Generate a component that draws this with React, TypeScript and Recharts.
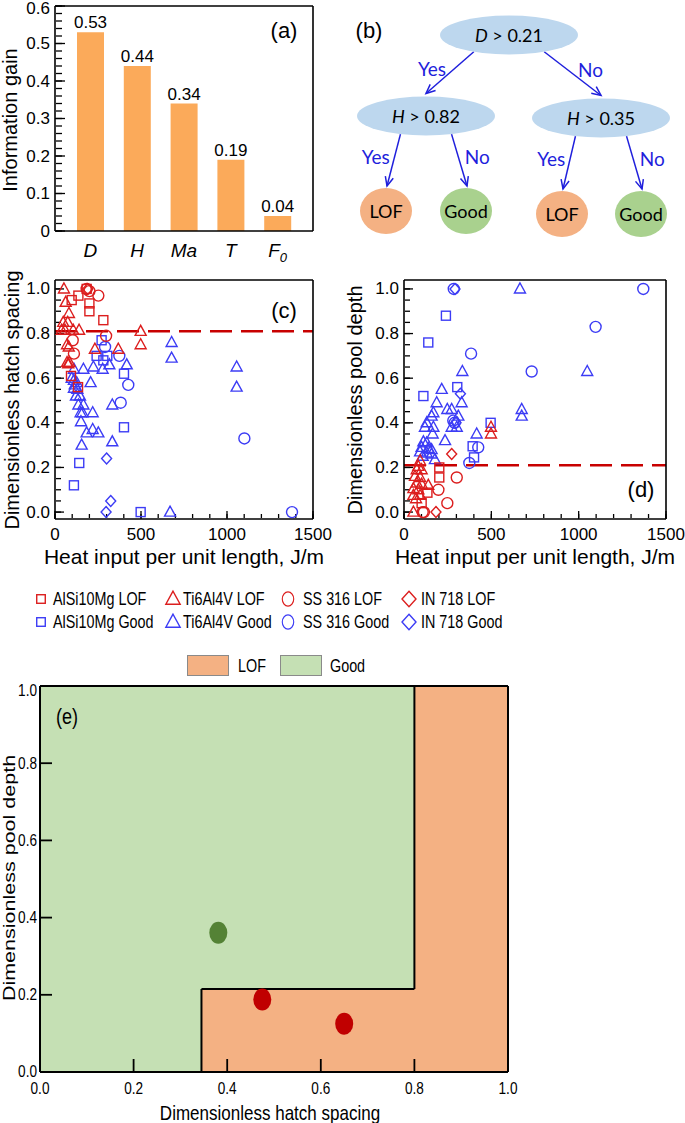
import React from "react";
import {
  ComposedChart,
  Bar,
  Line,
  XAxis,
  YAxis,
  LabelList,
  ScatterChart,
  Scatter,
  ReferenceLine,
  ReferenceArea,
} from "recharts";

// (a) information gain of each feature
const features = ["D", "H", "Ma", "T", "F0"];
const infoGain = [0.53, 0.44, 0.34, 0.19, 0.04];

// (b) decision tree
const splitFeatures = ["D", "H", "H"];
const splitThresholds = [0.21, 0.82, 0.35];
const leafClasses = ["LOF", "Good", "LOF", "Good"];
// layout of the diagram (diagram units)
const splitLayout = [[169, 35], [86, 116], [261, 118]];
const leafLayout = [[46, 211], [126, 211], [222, 214], [301, 214]];

// (c) heat input (J/m) vs dimensionless hatch spacing
const cAlLof = [[97, 0.95], [136, 0.97], [184, 1.0], [200, 0.935], [200, 0.9], [281, 0.86], [93, 0.61], [134, 0.56]];
const cAlGood = [[271, 0.77], [242, 0.7], [304, 0.7], [281, 0.68], [401, 0.62], [401, 0.38], [141, 0.22], [110, 0.12], [498, 0.0]];
const cTiLof = [[52, 1.0], [62, 0.94], [81, 0.89], [48, 0.85], [74, 0.85], [39, 0.815], [58, 0.815], [106, 0.815], [140, 0.815], [70, 0.75], [80, 0.74], [70, 0.67], [77, 0.665], [84, 0.67], [232, 0.73], [368, 0.73], [498, 0.81], [498, 0.75]];
const cTiGood = [
  [678, 0.76], [678, 0.69], [1056, 0.65], [1056, 0.56], [417, 0.66], [333, 0.48], [165, 0.64], [207, 0.58],
  [223, 0.65], [277, 0.64], [316, 0.66], [219, 0.445], [151, 0.405], [184, 0.355], [219, 0.37], [252, 0.355],
  [155, 0.3], [333, 0.315], [669, 0.0], [110, 0.64], [97, 0.6], [110, 0.59], [126, 0.58], [110, 0.555],
  [130, 0.55], [122, 0.52], [145, 0.52], [136, 0.48], [165, 0.48], [149, 0.445], [160, 0.445], [115, 0.57],
];
const cSsLof = [[184, 1.0], [200, 0.99], [252, 0.97], [297, 0.79], [103, 0.77], [110, 0.71]];
const cSsGood = [[291, 0.74], [374, 0.7], [382, 0.49], [426, 0.57], [1101, 0.33], [1378, 0.0]];
const cInLof = [[190, 1.0]];
const cInGood = [[300, 0.24], [324, 0.05], [297, 0.0]];

// (d) heat input (J/m) vs dimensionless pool depth
const dAlLof = [[202, 0.2], [202, 0.155], [134, 0.087], [101, 0.04]];
const dAlGood = [[240, 0.88], [139, 0.76], [111, 0.52], [305, 0.56], [496, 0.4], [393, 0.295], [401, 0.245]];
const dTiLof = [[92, 0.23], [82, 0.205], [73, 0.19], [101, 0.19], [63, 0.16], [92, 0.155], [73, 0.13], [101, 0.125], [54, 0.105], [82, 0.1], [54, 0.075], [92, 0.075], [69, 0.06], [54, 0.0], [139, 0.12], [498, 0.38], [498, 0.35]];
const dTiGood = [
  [664, 1.0], [1049, 0.63], [334, 0.63], [216, 0.55], [330, 0.49], [187, 0.49], [273, 0.46], [248, 0.46],
  [674, 0.46], [674, 0.43], [158, 0.43], [168, 0.445], [130, 0.4], [168, 0.38], [120, 0.38], [164, 0.35],
  [311, 0.43], [273, 0.38], [302, 0.38], [235, 0.32], [416, 0.35], [111, 0.315], [130, 0.31], [101, 0.29],
  [139, 0.285], [158, 0.28], [92, 0.27], [130, 0.265], [158, 0.26], [107, 0.25], [177, 0.235],
];
const dSsLof = [[302, 0.155], [197, 0.1], [248, 0.04], [107, 0.0], [114, 0.0]];
const dSsGood = [[1370, 1.0], [1097, 0.83], [731, 0.63], [384, 0.71], [285, 1.0], [282, 0.41], [290, 0.4], [425, 0.29], [374, 0.22]];
const dInLof = [[273, 0.26], [183, 0.0]];
const dInGood = [[292, 1.0], [323, 0.53], [298, 0.4]];

const hatchCut = 0.81;
const depthCut = 0.21;

// (e) process map
const lowHatch = 0.345;
const highHatch = 0.8;
const mapDepth = 0.215;
const goodCases = [[0.381, 0.361]];
const lofCases = [[0.475, 0.188], [0.65, 0.125]];

const RED = "#DC1E1E";
const BLUE = "#3C3CF5";
const ARROW = "#1F1FDC";
const frame = { stroke: "#000", strokeWidth: 1.6 };

const range = (n: number, step: number, start = 0) =>
  Array.from({ length: n }, (_, i) => Math.round((start + i * step) * 1000) / 1000);

const toPts = (a: number[][]) => a.map(([x, y]) => ({ x, y }));
const none = () => <g />;

// tick labels only; the tick marks come from mirrored axes (drawn inside the frame)
function LeftLabel(props: any) {
  const { x, y, payload, fs, fmt, sx = 1, gap = 5, topVal = 1, topShift = 0 } = props;
  const v = payload.value;
  return (
    <text
      transform={`translate(${x - gap},${y + (Math.abs(v - topVal) < 1e-9 ? topShift : 0)}) scale(${sx},1)`}
      textAnchor="end"
      dominantBaseline="central"
      fontSize={fs}
      fill="#000"
    >
      {fmt(v)}
    </text>
  );
}

function BottomLabel(props: any) {
  const { x, y, payload, fs, fmt, sx = 1, off = 21 } = props;
  return (
    <text transform={`translate(${x},${y + off}) scale(${sx},1)`} textAnchor="middle" fontSize={fs} fill="#000">
      {fmt(payload.value)}
    </text>
  );
}

function FeatureTick(props: any) {
  const { x, y, payload } = props;
  const name: string = payload.value;
  const main = name === "F0" ? "F" : name;
  return (
    <text x={x} y={y + 26} textAnchor="middle" fontSize={19} fontStyle="italic" fill="#000">
      <tspan>{main}</tspan>
      {name === "F0" && (
        <tspan dy={5} fontSize={13}>
          0
        </tspan>
      )}
    </text>
  );
}

function GainLabel(props: any) {
  const { x, y, width, value } = props;
  return (
    <text x={x + width / 2} y={y - 4} textAnchor="middle" fontSize={17} fill="#000">
      {Number(value).toFixed(2)}
    </text>
  );
}

function marker(kind: string, color: string, k = 1) {
  return (p: any) => {
    const { cx, cy } = p;
    const s = { fill: "none", stroke: color, strokeWidth: 1.4 };
    if (kind === "square") return <rect x={cx - 4.5 * k} y={cy - 4.5 * k} width={9 * k} height={9 * k} {...s} />;
    if (kind === "triangle")
      return <polygon points={`${cx},${cy - 6 * k} ${cx - 5.5 * k},${cy + 4 * k} ${cx + 5.5 * k},${cy + 4 * k}`} {...s} />;
    if (kind === "circle") return <ellipse cx={cx} cy={cy} rx={5.5 * k} ry={5.5 * k} {...s} />;
    return <polygon points={`${cx},${cy - 5.5 * k} ${cx + 5 * k},${cy} ${cx},${cy + 5.5 * k} ${cx - 5 * k},${cy}`} {...s} />;
  };
}

// mirrored tick axes (inward marks); called as a function so the axes stay direct chart children
function yMarks(id: string, dom: [number, number], ticks: number[], len: number, sw = 1.3) {
  return (
    <YAxis
      key={id}
      yAxisId={id}
      type="number"
      dataKey="y"
      mirror
      width={1}
      domain={dom}
      allowDataOverflow
      ticks={ticks}
      interval={0}
      tick={none}
      axisLine={false}
      tickSize={len}
      tickLine={{ stroke: "#000", strokeWidth: sw }}
    />
  );
}
function xMarks(id: string, dom: [number, number], ticks: number[], len: number, sw = 1.3) {
  return (
    <XAxis
      key={id}
      xAxisId={id}
      type="number"
      dataKey="x"
      mirror
      height={1}
      domain={dom}
      allowDataOverflow
      ticks={ticks}
      interval={0}
      tick={none}
      axisLine={false}
      tickSize={len}
      tickLine={{ stroke: "#000", strokeWidth: sw }}
    />
  );
}

function Txt(props: any) {
  const { x, y, size, children, rot = 0, sx = 1, sy = 1, color = "#000", family, italic, left } = props;
  const style: React.CSSProperties = {
    position: "absolute",
    left: x,
    top: y,
    fontSize: size,
    lineHeight: 1,
    whiteSpace: "nowrap",
    color,
    fontFamily: family,
    fontStyle: italic ? "italic" : "normal",
    transformOrigin: left ? "left center" : "center center",
    transform: left
      ? `translateY(-50%) scale(${sx},${sy})`
      : `translate(-50%,-50%) rotate(${rot}deg) scale(${sx},${sy})`,
  };
  return <div style={style}>{children}</div>;
}

function PanelA() {
  const rows = features.map((f, i) => ({ name: f, gain: infoGain[i], y: infoGain[i] }));
  const dom: [number, number] = [0, 0.6];
  return (
    <ComposedChart width={340} height={272} data={rows} margin={{ top: 5, right: 26, bottom: 40, left: 54 }}>
      <XAxis
        dataKey="name"
        height={1}
        tickSize={0}
        tickMargin={0}
        tickLine={false}
        interval={0}
        padding={{ left: 12, right: 12 }}
        axisLine={frame}
        tick={(p: any) => <FeatureTick {...p} />}
      />
      <XAxis xAxisId="top" orientation="top" dataKey="name" height={1} tick={false} tickLine={false} axisLine={frame} />
      <YAxis
        width={1}
        type="number"
        domain={dom}
        allowDataOverflow
        ticks={range(7, 0.1)}
        interval={0}
        tickSize={0}
        tickMargin={0}
        tickLine={false}
        axisLine={frame}
        tick={(p: any) => (
          <LeftLabel {...p} fs={17} topVal={0.6} topShift={2} fmt={(v: number) => (v === 0 ? "0" : v.toFixed(1))} />
        )}
      />
      <YAxis yAxisId="right" orientation="right" width={1} domain={dom} tick={false} tickLine={false} axisLine={frame} />
      {yMarks("ymaj", dom, range(7, 0.1), 10)}
      {yMarks("ymin", dom, range(31, 0.02), 6)}
      <Bar dataKey="gain" fill="#FBAA5A" barSize={27} isAnimationActive={false}>
        <LabelList dataKey="gain" content={(p: any) => <GainLabel {...p} />} />
      </Bar>
      <Line yAxisId="ymaj" dataKey="gain" stroke="none" dot={false} activeDot={false} isAnimationActive={false} />
      <Line yAxisId="ymin" dataKey="gain" stroke="none" dot={false} activeDot={false} isAnimationActive={false} />
    </ComposedChart>
  );
}

function Arrow(props: any) {
  const { x1, y1, x2, y2, text, side } = props;
  const ang = Math.atan2(y2 - y1, x2 - x1);
  const L = 10;
  const a = 0.42;
  const h1x = x2 - L * Math.cos(ang - a);
  const h1y = y2 - L * Math.sin(ang - a);
  const h2x = x2 - L * Math.cos(ang + a);
  const h2y = y2 - L * Math.sin(ang + a);
  const mx = (x1 + x2) / 2;
  const my = (y1 + y2) / 2;
  return (
    <g>
      <line x1={x1} y1={y1} x2={x2} y2={y2} stroke={ARROW} strokeWidth={1.5} />
      <polyline points={`${h1x},${h1y} ${x2},${y2} ${h2x},${h2y}`} fill="none" stroke={ARROW} strokeWidth={1.5} />
      <text
        x={mx + side * 18}
        y={my - 4}
        textAnchor="middle"
        dominantBaseline="central"
        fontSize={19}
        fill={ARROW}
        style={{ fontFamily: "Lato, 'Open Sans', sans-serif" }}
      >
        {text}
      </text>
    </g>
  );
}

function SplitShape(props: any) {
  const { cx, cy, payload } = props;
  return (
    <g>
      <ellipse cx={cx} cy={cy} rx={69} ry={19.5} fill="#BDD7EE" />
      <text x={cx} y={cy} textAnchor="middle" dominantBaseline="central" fontSize={18} fill="#000" style={{ fontFamily: "Lato, sans-serif" }}>
        <tspan fontStyle="italic">{payload.feature}</tspan>
        <tspan>{` > ${payload.threshold.toFixed(2)}`}</tspan>
      </text>
    </g>
  );
}

function LeafShape(props: any) {
  const { cx, cy, payload } = props;
  return (
    <g>
      <ellipse cx={cx} cy={cy} rx={26} ry={23} fill={payload.cls === "LOF" ? "#F4B183" : "#A9D18E"} />
      <text x={cx} y={cy} textAnchor="middle" dominantBaseline="central" fontSize={18} fill="#000" style={{ fontFamily: "Lato, sans-serif" }}>
        {payload.cls}
      </text>
    </g>
  );
}

function PanelB() {
  const splits = splitFeatures.map((f, i) => ({
    x: splitLayout[i][0],
    y: splitLayout[i][1],
    feature: f,
    threshold: splitThresholds[i],
  }));
  const leaves = leafClasses.map((c, i) => ({ x: leafLayout[i][0], y: leafLayout[i][1], cls: c }));
  // parent split -> yes / no children
  const edges: { from: any; to: any; leaf: boolean; side: number; text: string; root: boolean }[] = [
    { from: splits[0], to: splits[1], leaf: false, side: -1, text: "Yes", root: true },
    { from: splits[0], to: splits[2], leaf: false, side: 1, text: "No", root: true },
    { from: splits[1], to: leaves[0], leaf: true, side: -1, text: "Yes", root: false },
    { from: splits[1], to: leaves[1], leaf: true, side: 1, text: "No", root: false },
    { from: splits[2], to: leaves[2], leaf: true, side: -1, text: "Yes", root: false },
    { from: splits[2], to: leaves[3], leaf: true, side: 1, text: "No", root: false },
  ];
  return (
    <ScatterChart width={345} height={250} margin={{ top: 0, right: 0, bottom: 0, left: 0 }}>
      <XAxis type="number" dataKey="x" domain={[0, 345]} hide height={0} />
      <YAxis type="number" dataKey="y" domain={[0, 250]} reversed hide width={0} />
      {edges.map((e, i) => {
        const rx = 69;
        const ry = 19.5;
        const dx = e.side * rx * (e.root ? 0.51 : 0.37);
        const sy = e.from.y + ry * Math.sqrt(1 - (dx / rx) ** 2);
        const ex = e.to.x + (e.leaf ? 1 : 0);
        const ey = e.to.y - (e.leaf ? 23 + 2 : ry + 3);
        return (
          <ReferenceLine
            key={i}
            segment={[
              { x: e.from.x + dx, y: sy },
              { x: ex, y: ey },
            ]}
            ifOverflow="visible"
            shape={(p: any) => <Arrow {...p} text={e.text} side={e.side} />}
          />
        );
      })}
      <Scatter data={splits} shape={SplitShape} isAnimationActive={false} />
      <Scatter data={leaves} shape={LeafShape} isAnimationActive={false} />
    </ScatterChart>
  );
}

type Series = [number[][], string, string];

function HeatPanel(props: { width: number; left: number; right: number; series: Series[]; cut: number }) {
  const { width, left, right, series, cut } = props;
  const xDom: [number, number] = [0, 1500];
  const yDom: [number, number] = [-0.031, 1.04];
  const allPts = toPts(series.flatMap((s) => s[0]));
  return (
    <ScatterChart width={width} height={320} margin={{ top: 29, right: right - 1, bottom: 50, left: left - 1 }}>
      <XAxis
        type="number"
        dataKey="x"
        domain={xDom}
        allowDataOverflow
        ticks={range(4, 500)}
        interval={0}
        height={1}
        tickSize={0}
        tickMargin={0}
        tickLine={false}
        axisLine={frame}
        tick={(p: any) => <BottomLabel {...p} fs={17} fmt={(v: number) => String(v)} />}
      />
      <XAxis xAxisId="top" orientation="top" type="number" domain={xDom} height={1} tick={false} tickLine={false} axisLine={frame} />
      <YAxis
        type="number"
        dataKey="y"
        domain={yDom}
        allowDataOverflow
        ticks={range(6, 0.2)}
        interval={0}
        width={1}
        tickSize={0}
        tickMargin={0}
        tickLine={false}
        axisLine={frame}
        tick={(p: any) => <LeftLabel {...p} fs={17} fmt={(v: number) => v.toFixed(1)} />}
      />
      <YAxis yAxisId="right" orientation="right" type="number" domain={yDom} width={1} tick={false} tickLine={false} axisLine={frame} />
      {xMarks("xmaj", xDom, range(4, 500), 8)}
      {xMarks("xmin", xDom, range(16, 100), 4)}
      {yMarks("ymaj", yDom, range(6, 0.2), 9)}
      {yMarks("ymin", yDom, range(21, 0.05), 5)}
      <Scatter xAxisId="xmaj" yAxisId="ymaj" data={allPts} shape={none} isAnimationActive={false} />
      <Scatter xAxisId="xmin" yAxisId="ymin" data={allPts} shape={none} isAnimationActive={false} />
      <ReferenceLine y={cut} stroke="#C80000" strokeWidth={2.5} strokeDasharray="22 9" />
      {series.map(([pts, kind, color], i) => (
        <Scatter key={i} data={toPts(pts)} shape={marker(kind, color)} isAnimationActive={false} />
      ))}
    </ScatterChart>
  );
}

const eMargin = { top: 5, right: 176, bottom: 50, left: 39 };

// coloured regions and cases of (e)
function PanelE() {
  const dot = (color: string) => (p: any) => <ellipse cx={p.cx} cy={p.cy} rx={9} ry={11} fill={color} />;
  return (
    <ScatterChart width={685} height={443} margin={{ top: 6, right: 177, bottom: 51, left: 40 }}>
      <XAxis type="number" dataKey="x" domain={[0, 1]} hide height={0} />
      <YAxis type="number" dataKey="y" domain={[0, 1]} hide width={0} />
      <ReferenceArea x1={0} x2={1} y1={0} y2={1} fill="#C5E0B4" fillOpacity={1} stroke="none" />
      <ReferenceArea x1={lowHatch} x2={1} y1={0} y2={mapDepth} fill="#F4B183" fillOpacity={1} stroke="none" />
      <ReferenceArea x1={highHatch} x2={1} y1={mapDepth} y2={1} fill="#F4B183" fillOpacity={1} stroke="none" />
      <ReferenceLine segment={[{ x: lowHatch, y: 0 }, { x: lowHatch, y: mapDepth }]} stroke="#000" strokeWidth={2} />
      <ReferenceLine segment={[{ x: lowHatch, y: mapDepth }, { x: highHatch, y: mapDepth }]} stroke="#000" strokeWidth={2} />
      <ReferenceLine segment={[{ x: highHatch, y: mapDepth }, { x: highHatch, y: 1 }]} stroke="#000" strokeWidth={2} />
      <Scatter data={toPts(goodCases)} shape={dot("#548235")} isAnimationActive={false} />
      <Scatter data={toPts(lofCases)} shape={dot("#C00000")} isAnimationActive={false} />
    </ScatterChart>
  );
}

// axes of (e), laid over the regions so the inward ticks stay visible
function PanelEAxes() {
  const ticks = range(6, 0.2);
  const inner = range(4, 0.2, 0.2);
  const dom: [number, number] = [0, 1];
  const edge = { stroke: "#000", strokeWidth: 2 };
  const cases = toPts([...goodCases, ...lofCases]);
  return (
    <ScatterChart width={685} height={443} margin={eMargin}>
      <XAxis
        type="number"
        dataKey="x"
        domain={dom}
        allowDataOverflow
        ticks={ticks}
        interval={0}
        height={1}
        tickSize={0}
        tickMargin={0}
        tickLine={false}
        axisLine={edge}
        tick={(p: any) => <BottomLabel {...p} fs={16} sx={0.85} off={22} fmt={(v: number) => v.toFixed(1)} />}
      />
      <XAxis xAxisId="top" orientation="top" type="number" domain={dom} height={1} tick={false} tickLine={false} axisLine={edge} />
      <YAxis
        type="number"
        dataKey="y"
        domain={dom}
        allowDataOverflow
        ticks={ticks}
        interval={0}
        width={1}
        tickSize={0}
        tickMargin={0}
        tickLine={false}
        axisLine={edge}
        tick={(p: any) => <LeftLabel {...p} fs={16} sx={0.85} gap={3} topShift={5} fmt={(v: number) => v.toFixed(1)} />}
      />
      <YAxis yAxisId="right" orientation="right" type="number" domain={dom} width={1} tick={false} tickLine={false} axisLine={edge} />
      {xMarks("xmaj", dom, inner, 13, 1.8)}
      {yMarks("ymaj", dom, inner, 12, 1.8)}
      {/* the same cases, invisible here: they give the overlay axes their data */}
      <Scatter data={cases} shape={none} isAnimationActive={false} />
      <Scatter xAxisId="xmaj" yAxisId="ymaj" data={cases} shape={none} isAnimationActive={false} />
    </ScatterChart>
  );
}

const legendItems = [
  { label: "AlSi10Mg", kind: "square", mx: 41, tx: 53 },
  { label: "Ti6Al4V", kind: "triangle", mx: 173, tx: 183 },
  { label: "SS 316", kind: "circle", mx: 288, tx: 303 },
  { label: "IN 718", kind: "diamond", mx: 409, tx: 421 },
];

function LegendMarker(props: { x: number; y: number; kind: string; color: string }) {
  const { x, y, kind, color } = props;
  const k = kind === "square" ? 0.95 : kind === "diamond" ? 1.4 : 1.3;
  const draw = marker(kind, color, k);
  return (
    <svg style={{ position: "absolute", left: x - 10, top: y - 10 }} width={20} height={20}>
      <g transform={kind === "circle" ? "translate(10,10) scale(0.8,1) translate(-10,-10)" : undefined}>{draw({ cx: 10, cy: 10 })}</g>
    </svg>
  );
}

export default function App() {
  const cSeries: Series[] = [
    [cAlGood, "square", BLUE],
    [cTiGood, "triangle", BLUE],
    [cSsGood, "circle", BLUE],
    [cInGood, "diamond", BLUE],
    [cAlLof, "square", RED],
    [cTiLof, "triangle", RED],
    [cSsLof, "circle", RED],
    [cInLof, "diamond", RED],
  ];
  const dSeries: Series[] = [
    [dAlGood, "square", BLUE],
    [dTiGood, "triangle", BLUE],
    [dSsGood, "circle", BLUE],
    [dInGood, "diamond", BLUE],
    [dAlLof, "square", RED],
    [dTiLof, "triangle", RED],
    [dSsLof, "circle", RED],
    [dInLof, "diamond", RED],
  ];
  const arial = "'Liberation Sans', Arial, sans-serif";
  return (
    <div
      style={{
        position: "absolute",
        left: 0,
        top: 0,
        width: 685,
        height: 1123,
        background: "#fff",
        overflow: "hidden",
        fontFamily: arial,
      }}
    >
      <div style={{ position: "absolute", left: 0, top: 0 }}>
        <PanelA />
      </div>
      <div style={{ position: "absolute", left: 340, top: 0 }}>
        <PanelB />
      </div>
      <div style={{ position: "absolute", left: 0, top: 250 }}>
        <HeatPanel width={340} left={55} right={27} series={cSeries} cut={hatchCut} />
      </div>
      <div style={{ position: "absolute", left: 340, top: 250 }}>
        <HeatPanel width={345} left={64} right={19} series={dSeries} cut={depthCut} />
      </div>
      <div style={{ position: "absolute", left: 0, top: 680 }}>
        <PanelE />
      </div>
      <div style={{ position: "absolute", left: 0, top: 680 }}>
        <PanelEAxes />
      </div>

      {/* panel labels and axis titles */}
      <Txt x={284} y={31} size={22}>(a)</Txt>
      <Txt x={369} y={31} size={22}>(b)</Txt>
      <Txt x={284} y={311} size={22}>(c)</Txt>
      <Txt x={641} y={490} size={22}>(d)</Txt>
      <Txt x={67} y={717} size={22} sx={0.82}>(e)</Txt>

      <Txt x={10} y={120} size={20} rot={-90}>Information gain</Txt>
      <Txt x={12} y={400} size={20} rot={-90}>Dimensionless hatch spacing</Txt>
      <Txt x={355} y={400} size={20} rot={-90}>Dimensionless pool depth</Txt>
      <Txt x={184} y={556} size={21}>Heat input per unit length, J/m</Txt>
      <Txt x={535} y={556} size={21}>Heat input per unit length, J/m</Txt>
      <Txt x={270} y={1112} size={21} sx={0.81}>Dimensionless hatch spacing</Txt>
      <Txt x={10} y={878} size={21.5} rot={-90} sy={0.8}>Dimensionless pool depth</Txt>

      {/* legend for (c) and (d) */}
      {legendItems.map((it) => (
        <React.Fragment key={it.label}>
          <LegendMarker x={it.mx} y={599} kind={it.kind} color={RED} />
          <LegendMarker x={it.mx} y={622} kind={it.kind} color={BLUE} />
          <Txt x={it.tx} y={600} size={17.5} sx={0.82} left>{`${it.label} LOF`}</Txt>
          <Txt x={it.tx} y={623} size={17.5} sx={0.82} left>{`${it.label} Good`}</Txt>
        </React.Fragment>
      ))}

      {/* legend for (e) */}
      <div style={{ position: "absolute", left: 187, top: 655, width: 42, height: 21, background: "#F4B183", border: "1px solid #8a8a8a", boxSizing: "border-box" }} />
      <Txt x={238} y={667} size={17.5} sx={0.82} left>LOF</Txt>
      <div style={{ position: "absolute", left: 280, top: 655, width: 42, height: 21, background: "#C5E0B4", border: "1px solid #8a8a8a", boxSizing: "border-box" }} />
      <Txt x={330} y={667} size={17.5} sx={0.82} left>Good</Txt>
    </div>
  );
}
